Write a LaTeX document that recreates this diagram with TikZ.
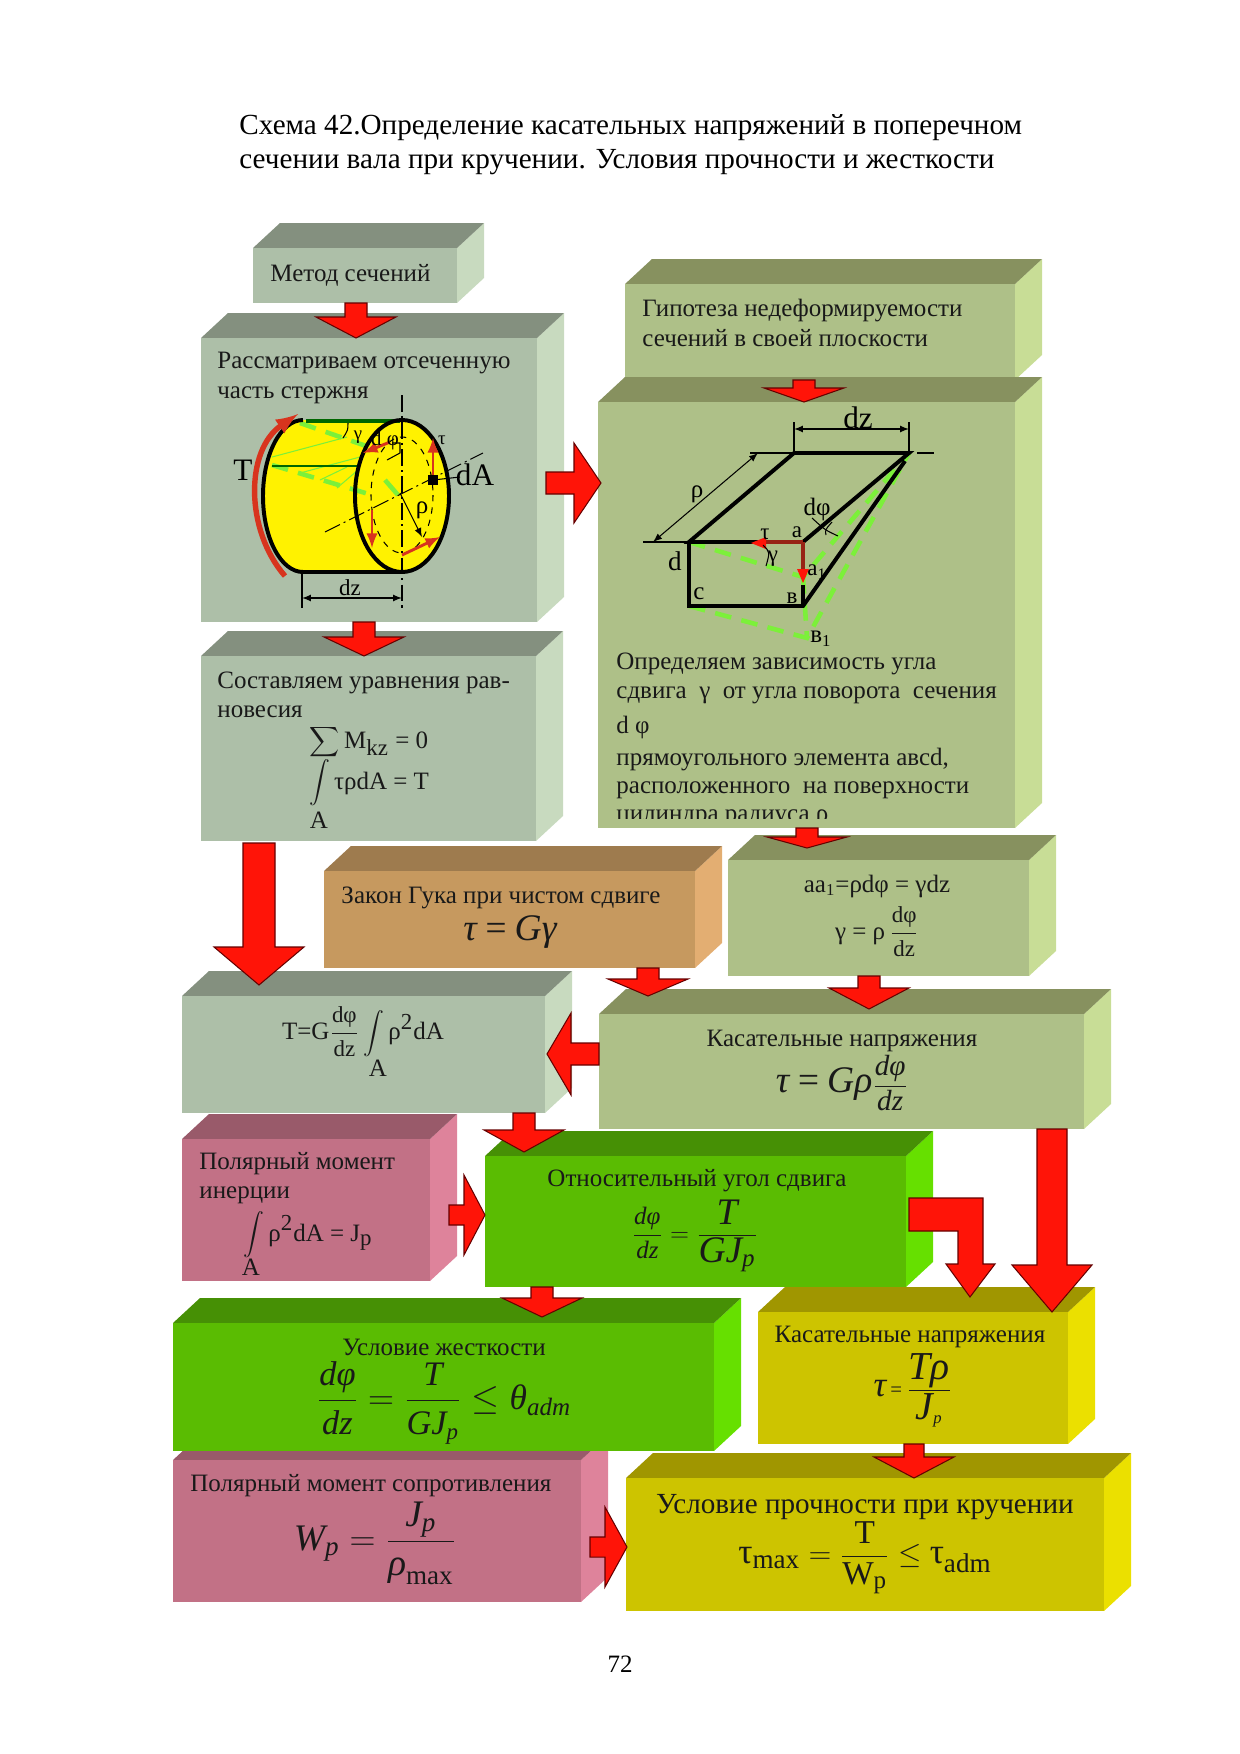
\documentclass[tikz,border=0pt]{standalone}
\usepackage{fontspec}
\setmainfont{Liberation Serif}
\usetikzlibrary{calc}

% палитры граней
\definecolor{sagefront}{HTML}{ADBFA8}\definecolor{sagetop}{HTML}{84907F}\definecolor{sageside}{HTML}{C8DABF}
\definecolor{olivefront}{HTML}{AEC088}\definecolor{olivetop}{HTML}{87915F}\definecolor{oliveside}{HTML}{C8DD96}
\definecolor{brownfront}{HTML}{C6995F}\definecolor{browntop}{HTML}{9E7B4E}\definecolor{brownside}{HTML}{E3AE72}
\definecolor{pinkfront}{HTML}{C27186}\definecolor{pinktop}{HTML}{995A6A}\definecolor{pinkside}{HTML}{DE839B}
\definecolor{greenfront}{HTML}{5ABC02}\definecolor{greentop}{HTML}{469005}\definecolor{greenside}{HTML}{66E000}
\definecolor{yellowfront}{HTML}{CDC400}\definecolor{yellowtop}{HTML}{A09600}\definecolor{yellowside}{HTML}{EBE000}
\definecolor{arrowred}{HTML}{FF1408}
\definecolor{shearred}{HTML}{D8341E}
\definecolor{liteline}{HTML}{7CF03A}

\tikzset{
  boxtext/.style={font=\fontsize{12}{14}\selectfont, align=left, inner sep=0pt, text=black!90},
  cuttext/.style={font=\fontsize{9}{11}\selectfont, inner sep=0pt},
  mathtext/.style={font=\fontsize{12}{14}\selectfont, align=center, inner sep=0pt, text=black!90},
  redblock/.style={fill=arrowred, draw=black!60!red, line width=0.5pt, line join=miter},
  heavyline/.style={line width=1.9pt},
  thinline/.style={line width=0.5pt},
  shear/.style={line width=1.4pt, draw=shearred, -latex},
  litedash/.style={line width=2.2pt, draw=liteline, dash pattern=on 8pt off 5pt},
  litehatch/.style={line width=0.5pt, draw=liteline}
}

\newcommand{\rmtx}[2][12]{\mbox{\fontsize{#1}{#1}\selectfont #2}}
\newcommand{\ittx}[2][12]{\mbox{\fontsize{#1}{#1}\selectfont\itshape #2}}

% блок: имя, лево, верх, право, низ, палитра
\newcommand{\slab}[6]{%
  \fill[#6side] (#4,#3) -- ++(27,-25) -- (#4+27,#5-25) -- (#4,#5) -- cycle;
  \fill[#6top] (#2,#3) -- ++(27,-25) -- (#4+27,#3-25) -- (#4,#3) -- cycle;
  \node[fill=#6front, inner sep=0pt, outer sep=0pt, anchor=north west,
        minimum width={(#4-#2)*0.48pt}, minimum height={(#5-#3)*0.48pt}] (#1) at (#2,#3) {};
}

% стрелка: хвост, острие, длина головы, полуширина ствола, полуширина головы
\newcommand{\blockarrow}[5]{%
  \coordinate (tailpt) at (#1);
  \coordinate (tippt) at (#2);
  \coordinate (neckpt) at ($(tippt)!{#3*0.48pt}!(tailpt)$);
  \draw[redblock] ($(tailpt)!{#4*0.48pt}!90:(tippt)$) -- ($(neckpt)!{#4*0.48pt}!90:(tippt)$)
    -- ($(neckpt)!{#5*0.48pt}!90:(tippt)$) -- (tippt) -- ($(neckpt)!{#5*0.48pt}!-90:(tippt)$)
    -- ($(neckpt)!{#4*0.48pt}!-90:(tippt)$) -- ($(tailpt)!{#4*0.48pt}!-90:(tippt)$) -- cycle;
}

\begin{document}
\begin{tikzpicture}[x=0.48pt, y=-0.48pt]

\useasboundingbox (0,0) rectangle (1240,1754);

% 1. Заголовок и номер страницы
\node[anchor=north west, align=left, inner sep=0pt, font=\fontsize{14}{16.3}\selectfont] (title) at (239,114)
  {Схема 42.Определение касательных напряжений в поперечном\\
   сечении вала при кручении. Условия прочности и жесткости};
\node[inner sep=0pt, font=\fontsize{12}{14}\selectfont] (pagenum) at (620,1664) {72};

% 2. Блоки (порядок важен: следующие перекрывают предыдущие)
\slab{metod}{253}{248}{457}{303}{sage}
\slab{rass}{201}{338}{537}{622}{sage}
\slab{uravn}{201}{656}{536}{841}{sage}
\slab{hyp}{625}{284}{1015}{380}{olive}
\slab{opred}{598}{402}{1015}{828}{olive}
\slab{hooke}{324}{871}{695}{968}{brown}
\slab{aaone}{728}{860}{1029}{976}{olive}
\slab{tgint}{182}{996}{545}{1113}{sage}
\slab{kasat}{599}{1014}{1084}{1129}{olive}
\slab{polar}{182}{1139}{430}{1281}{pink}
\slab{kasatjp}{758}{1312}{1068}{1444}{yellow}
\slab{otnos}{485}{1156}{906}{1287}{green}
\slab{polsopr}{173}{1460}{581}{1602}{pink}
\slab{zhest}{173}{1323}{714}{1451}{green}
\slab{prochn}{626}{1478}{1104}{1611}{yellow}

% 3. Текст блоков
\node[boxtext, anchor=west] (metodtxt) at (270,275) {Метод сечений};
\node[boxtext, anchor=west] (rasstxt) at (217,378) {Рассматриваем отсеченную\\часть стержня};
\node[boxtext, anchor=west] (uravntxt) at (217,695) {Составляем уравнения рав-\\новесия};
\node[mathtext] (summ) at (369,742) {$\displaystyle\sum\rmtx{M}_{\rmtx[11]{kz}}\rmtx{ = 0}$};
\node[mathtext] (inttau) at (369,783) {$\displaystyle\int\rmtx{τρdA = T}$};
\node[boxtext] (inttaua) at (319,820) {A};
\node[boxtext, anchor=west] (hyptxt) at (642,323) {Гипотеза недеформируемости\\сечений в своей плоскости};
\begin{scope}
  \clip (598,402) rectangle (1015,818);
  \node[boxtext, anchor=north west] (opredtxt) at (616,653)
    {Определяем зависимость угла\\[-0.5pt]
     сдвига~~γ~~от угла поворота~~сечения\\[3pt]
     d φ\\[1.5pt]
     прямоугольного элемента авсd,\\[-0.5pt]
     расположенного~~на поверхности\\[-1pt]
     цилиндра радиуса ρ};
\end{scope}
\node[mathtext] (aaeq) at (877,886) {aa\textsubscript{1}=ρdφ = γdz};
\node[mathtext] (gammaeq) at (877,932) {$\rmtx{γ = ρ}\,\displaystyle\frac{\rmtx[11]{dφ}}{\rmtx[11]{dz}}$};
\node[mathtext] (hooketxt) at (501,898) {Закон Гука при чистом сдвиге};
\node[mathtext] (hookeeq) at (510,932) {\fontsize{18}{20}\selectfont\itshape τ\,=\,Gγ};
\node[mathtext] (tgeq) at (363,1032) {$\rmtx{T=G}\displaystyle\frac{\rmtx[11]{dφ}}{\rmtx[11]{dz}}\int\rmtx{ρ}^{\rmtx[11]{2}}\rmtx{dA}$};
\node[boxtext] (tga) at (378,1068) {A};
\node[mathtext] (kasattxt) at (842,1041) {Касательные напряжения};
\node[mathtext] (kasateq) at (842,1083) {$\ittx[18]{τ\,=\,Gρ}\displaystyle\frac{\ittx[14]{dφ}}{\ittx[14]{dz}}$};
\node[boxtext, anchor=west] (polartxt) at (199,1178) {Полярный момент\\инерции};
\node[mathtext] (polareq) at (308,1235) {$\displaystyle\int\rmtx{ρ}^{\rmtx[11]{2}}\rmtx{dA = J}_{\rmtx[11]{p}}$};
\node[boxtext] (polara) at (251,1267) {A};
\node[mathtext] (otnostxt) at (697,1181) {Относительный угол сдвига};
\node[mathtext] (otnoseq) at (695,1236) {$\displaystyle\frac{\ittx[12]{dφ}}{\ittx[12]{dz}}=\frac{\ittx[18]{T}}{\ittx[18]{GJ}_{\ittx[12]{p}}}$};
\node[mathtext] (zhesttxt) at (444,1347) {Условие жесткости};
\node[mathtext] (zhesteq) at (444,1403) {\fontsize{16}{18}\selectfont$\displaystyle\frac{\ittx[16.5]{dφ}}{\ittx[16.5]{dz}}=\frac{\ittx[16.5]{T}}{\ittx[16.5]{GJ}_{\ittx[11]{p}}}\leq\ittx[17]{θ}_{\ittx[12]{adm}}$};
\node[mathtext] (kasatjptxt) at (910,1337) {Касательные напряжения};
\node[mathtext] (kasatjpeq) at (913,1390) {$\ittx[17]{τ}\,\rmtx[10]{=}\,\displaystyle\frac{\ittx[19]{Tρ}}{\ittx[19]{J}_{\ittx[8]{p}}}$};
\node[boxtext, anchor=west] (polsoprtxt) at (190,1486) {Полярный момент сопротивления};
\node[mathtext] (polsopreq) at (375,1543) {\fontsize{17}{19}\selectfont$\ittx[18]{W}_{\ittx[13]{p}}=\displaystyle\frac{\ittx[18]{J}_{\ittx[13]{p}}}{\ittx[18]{ρ}_{\rmtx[13]{max}}}$};
\node[mathtext, font=\fontsize{14}{16}\selectfont] (prochntxt) at (865,1507) {Условие прочности при кручении};
\node[mathtext] (prochneq) at (865,1558) {\fontsize{15}{17}\selectfont$\rmtx[17]{τ}_{\rmtx[13]{max}}=\displaystyle\frac{\rmtx[16]{T}}{\rmtx[16]{W}_{\rmtx[12]{p}}}\leq\rmtx[17]{τ}_{\rmtx[13]{adm}}$};

% 4. Цилиндр
\fill[yellow] (303,420) -- (402,420) -- (402,572) -- (303,572) arc[start angle=90, end angle=270, x radius=40, y radius=76];
\fill[yellow] (402,496) ellipse [x radius=47, y radius=76];
\draw[litehatch] (272,457) -- (347,437);
\draw[litehatch] (300,473) -- (360,457);
\draw[litehatch] (320,480) -- (347,467);
\draw[litehatch] (337,488) -- (358,470);
\draw[litedash] (300,423) -- (372,448);
\draw[litedash] (272,465) -- (372,495);
\draw[line width=2.2pt, draw=liteline] (385,480) -- (398,495);
\draw[line width=1.4pt, draw=black!60!green] (272,466) -- (360,466);
\draw[line width=1.9pt, draw=black!60!green] (306,421) -- (400,421);
\draw[heavyline] (303,420) arc[start angle=270, end angle=90, x radius=40, y radius=76];
\draw[heavyline] (303,572) -- (402,572);
\draw[dashed, thinline] (402,495) ellipse [x radius=31, y radius=58];
\draw[heavyline] (402,496) ellipse [x radius=47, y radius=76];
\draw[thinline, dash pattern=on 8pt off 2pt on 1pt off 2pt] (402,395) -- (402,608);
\draw[thinline, dash pattern=on 8pt off 2pt on 1pt off 2pt] (325,532) -- (483,453);
\draw[line width=2.6pt, draw=shearred, -latex] (285,576) .. controls (245,530) and (245,450) .. (298,414);
\draw[shear] (433,477) -- (433,438);
\draw[shear] (372,510) -- (372,548);
\draw[shear] (402,555) -- (440,537);
\draw[shear] (390,442) -- (363,453);
\fill (428,475) rectangle (438,485);
\draw[thinline] (433,480) -- (460,477);
\draw[thinline, -latex] (400,493) -- (422,537);
\draw[thinline] (392,443) -- (400,443) -- (400,453) -- (387,460);
\draw[thinline] (348,423) .. controls (348,430) .. (343,438);
\draw[thinline] (302,573) -- (302,608);
\draw[thinline, latex-latex] (302,598) -- (402,598);
\node[cuttext] (cylgamma) at (358,437) {γ};
\node[cuttext, font=\fontsize{10}{12}\selectfont] (cyldphi) at (385,440) {d φ};
\node[cuttext] (cyltau) at (442,440) {τ};
\node[cuttext, font=\fontsize{15}{17}\selectfont] (cylt) at (243,470) {T};
\node[cuttext, font=\fontsize{15}{17}\selectfont] (cylda) at (475,475) {dA};
\node[cuttext, font=\fontsize{12}{14}\selectfont] (cylrho) at (422,510) {ρ};
\node[cuttext, font=\fontsize{11}{13}\selectfont] (cyldz) at (350,588) {dz};

% 5. Элемент abcd
\draw[litedash] (689,542) -- (803,577) -- (909,453);
\draw[litedash] (689,606) -- (807,638) -- (909,453);
\draw[litedash] (803,577) -- (807,638);
\draw[heavyline] (794,453) -- (909,453) -- (803,542);
\draw[heavyline] (794,453) -- (689,542) -- (803,542);
\draw[heavyline] (689,542) -- (689,606) -- (803,606) -- (905,461);
\draw[heavyline] (803,585) -- (803,606);
\draw[line width=1.7pt, draw=black!30!shearred] (803,542) -- (760,542);
\draw[line width=1.7pt, draw=black!30!shearred] (803,542) -- (803,570);
\fill[arrowred] (751,543) -- (766,537) -- (766,549) -- cycle;
\fill[arrowred] (803,583) -- (797,569) -- (809,569) -- cycle;
\draw[thinline] (643,542) -- (689,542);
\draw[thinline] (750,453) -- (794,453);
\draw[thinline, latex-latex] (653,542) -- (758,453);
\draw[thinline] (794,422) -- (794,453);
\draw[thinline] (909,422) -- (909,453);
\draw[thinline, latex-latex] (794,429) -- (909,429);
\draw[thinline, dash pattern=on 8pt off 3pt on 1pt off 3pt] (917,453) -- (935,453);
\draw[thinline] (812,518) .. controls (825,530) .. (838,536);
\draw[thinline] (832,522) .. controls (825,530) .. (826,535);
\draw[thinline] (763,545) .. controls (770,552) .. (766,566);
\node[cuttext, font=\fontsize{15}{17}\selectfont] (elemdz) at (858,418) {dz};
\node[cuttext, font=\fontsize{12}{14}\selectfont] (elemrho) at (697,494) {ρ};
\node[cuttext, font=\fontsize{12}{14}\selectfont] (elemdphi) at (817,509) {dφ};
\node[cuttext, font=\fontsize{11}{13}\selectfont] (elema) at (797,532) {a};
\node[cuttext, font=\fontsize{11}{13}\selectfont] (elemtau) at (765,534) {τ};
\node[cuttext, font=\fontsize{11}{13}\selectfont] (elemgamma) at (773,559) {γ};
\node[cuttext, font=\fontsize{11}{13}\selectfont] (elemaone) at (817,572) {a\textsubscript{1}};
\node[cuttext, font=\fontsize{13}{15}\selectfont] (elemd) at (675,561) {d};
\node[cuttext, font=\fontsize{12}{14}\selectfont] (elemc) at (699,594) {c};
\node[cuttext, font=\fontsize{11}{13}\selectfont] (elemb) at (792,598) {в};
\node[cuttext, font=\fontsize{12}{14}\selectfont] (elembone) at (821,639) {в\textsubscript{1}};

% 6. Блочные стрелки
\blockarrow{356,0 |- metod.south}{356,0 |- rass.north}{21}{11}{40}
\blockarrow{364,0 |- rass.south}{364,0 |- uravn.north}{19}{11}{40}
\blockarrow{804,0 |- hyp.south}{804,0 |- opred.north}{14}{11}{40}
\blockarrow{$(rass.east |- 0,483)+(9,0)$}{$(opred.west |- 0,483)+(3,0)$}{27}{11}{40}
\blockarrow{807,0 |- opred.south}{$(807,0 |- aaone.north)+(0,-12)$}{11}{11}{40}
\blockarrow{$(259,0 |- uravn.south)+(0,2)$}{$(259,0 |- tgint.north)+(0,-11)$}{38}{16}{45}
\blockarrow{648,0 |- hooke.south}{$(648,0 |- kasat.north)+(0,-18)$}{17}{11}{40}
\blockarrow{869,0 |- aaone.south}{$(869,0 |- kasat.north)+(0,-5)$}{21}{11}{40}
\blockarrow{kasat.west |- 0,1054}{$(tgint.east |- 0,1054)+(2,0)$}{24}{11}{41}
\blockarrow{524,0 |- tgint.south}{$(524,0 |- otnos.north)+(0,-4)$}{22}{11}{40}
\blockarrow{$(polar.east |- 0,1215)+(19,0)$}{otnos.west |- 0,1215}{21}{10}{40}
\draw[redblock] ($(otnos.north east)+(3,42)$) -- ++(74,0) -- ++(0,66) -- ++(12,0)
  -- ($(970,0 |- kasatjp.north)+(0,-15)$) -- ++(-24,-33) -- ++(12,0) -- ++(0,-33) -- ++(-49,0) -- cycle;
\blockarrow{1052,0 |- kasat.south}{1052,0 |- kasatjp.north}{47}{15}{40}
\blockarrow{542,0 |- otnos.south}{$(542,0 |- zhest.north)+(0,-6)$}{19}{11}{40}
\blockarrow{914,0 |- kasatjp.south}{914,0 |- prochn.north}{21}{10}{40}
\blockarrow{$(polsopr.east |- 0,1547)+(9,0)$}{$(prochn.west |- 0,1547)+(1,0)$}{22}{10}{40}

\end{tikzpicture}
\end{document}
